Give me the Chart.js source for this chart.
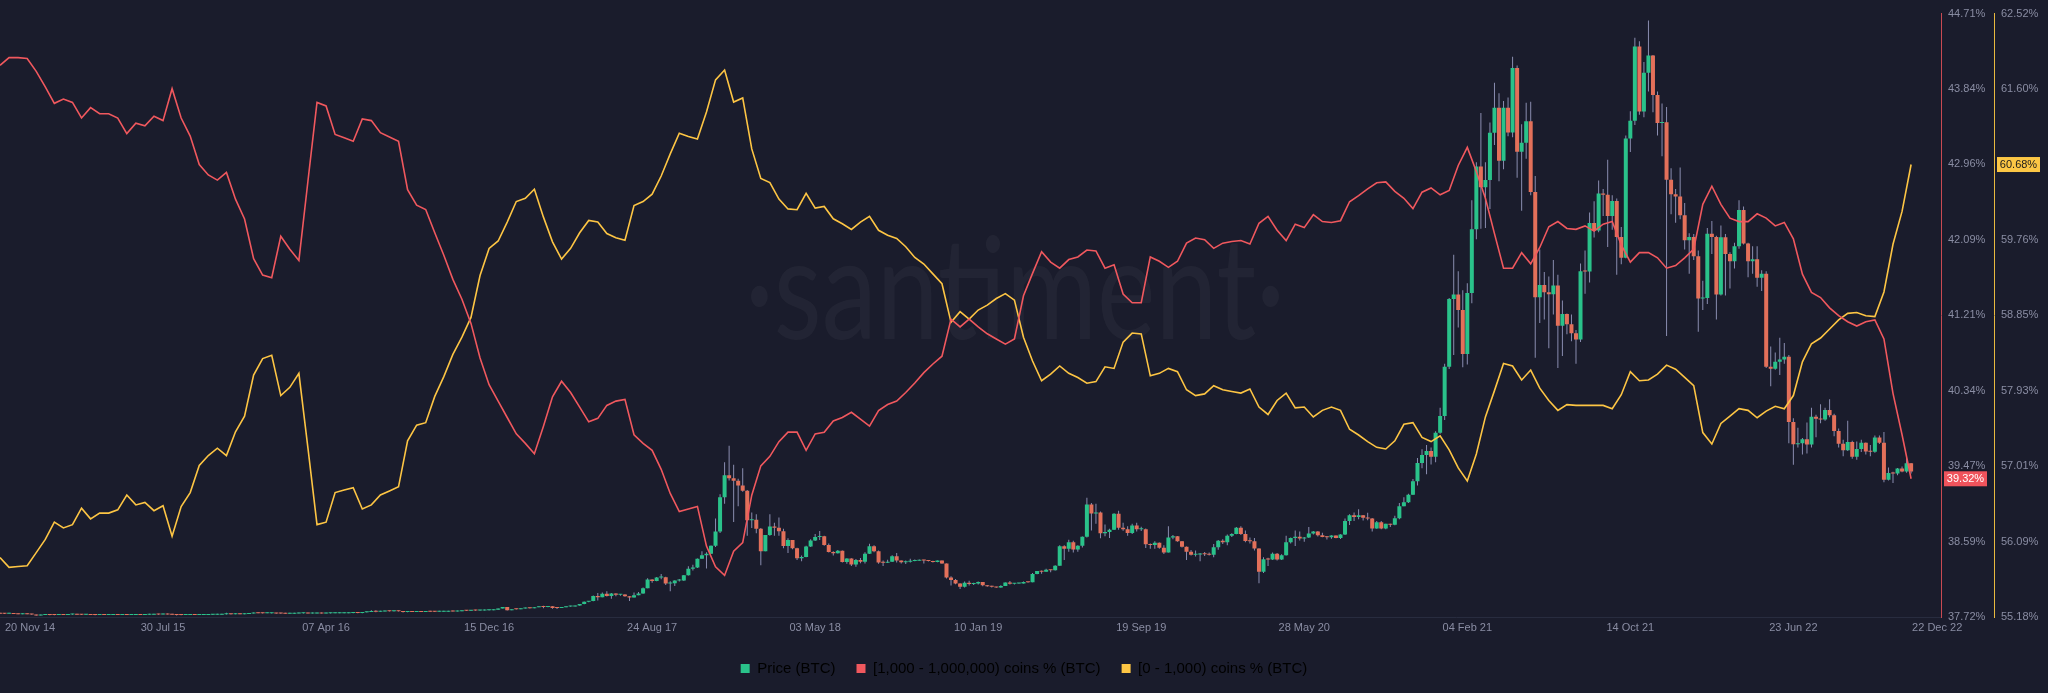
<!DOCTYPE html>
<html>
<head>
<meta charset="utf-8">
<script src="https://cdn.jsdelivr.net/npm/chart.js@4.4.1/dist/chart.umd.min.js"></script>
<style>
  html, body { margin: 0; padding: 0; background: #1a1c2c; }
</style>
</head>
<body>
<canvas id="chart" width="2048" height="693"></canvas>
<script>
// weekly candles: index 0 = week closing 20 Nov 14, one index per week
const tickWeeks = [0, 36, 72, 108, 144, 180, 216, 252, 288, 324, 360, 396, 422];
const tickLabels = ['20 Nov 14', '30 Jul 15', '07 Apr 16', '15 Dec 16', '24 Aug 17', '03 May 18',
  '10 Jan 19', '19 Sep 19', '28 May 20', '04 Feb 21', '14 Oct 21', '23 Jun 22', '22 Dec 22'];

const firstOpen = 423;
const priceClose = [
  380,367,375,345,320,323,320,294,178,228, 233,227,219,243,237,281,296,256,246,247,
  245,219,235,225,230,236,234,237,225,229, 249,241,258,270,285,277,289,282,267,226,
  225,229,238,229,231,236,246,253,266,304, 403,311,335,328,359,417,454,442,426,431,
  432,418,395,368,381,407,424,424,412,416, 418,412,422,423,441,446,446,450,454,449,
  536,580,694,597,640,670,652,665,654,566, 592,573,580,573,614,610,597,605,612,636,
  630,678,730,709,744,739,742,767,780,834, 975,1154,785,906,892,989,1052,1008,1125,1223,
  1150,1245,1048,1040,1133,1210,1217,1317,1490,1760, 1840,2440,2290,2690,2440,2710,2570,2600,2390,2270,
  2530,2710,3340,4330,4150,4580,4600,3880,3910,4210, 4220,4830,5570,5730,6740,7140,7310,8230,9890,13860,
  16410,16050,15750,15200,14600,11200,11260,10220,7620,9490, 10480,10330,9910,8200,8900,7960,6810,6950,8160,8860,
  9240,9330,8340,7520,7370,7650,6350,6770,6070,6600, 6380,7320,8170,7600,6300,6270,6380,7040,6530,6340,
  6400,6480,6510,6590,6530,6490,6370,6530,6180,4580, 4280,3870,3490,3950,3830,3880,4040,3680,3560,3490,
  3400,3600,3980,3840,3870,3880,4050,4030,4970,5310, 5240,5470,5400,5940,8190,7900,8660,7800,8230,9270,
  13020,11960,12100,9680,9840,10080,11950,10330,10140,9720, 10580,10160,10160,8430,8340,8590,8000,7470,9200,9340,
  8760,8120,7550,7200,7220,7280,7250,7200,8080,8820, 8660,9390,9610,10330,9600,8790,8760,7910,5230,6680,
  6640,7330,6640,7130,8660,9150,9270,9080,9200,9670, 9890,9450,9250,9230,9440,9130,9540,11100,11760,11580,
  11760,11480,11400,10240,10950,10240,10780,10670,11430,12820, 13270,14150,15700,17800,18730,19210,18550,21310,23240,28950,
  36800,37320,35510,30430,37480,44840,52100,49700,50540,56010, 58910,52770,58920,56050,63500,53820,54860,57350,49150,37000,
  38400,37580,37340,38350,33680,35040,33860,32820,32110,40010, 39970,45590,44700,48990,48850,46400,48120,43960,41560,55360,
  57400,65990,58480,62970,64950,60370,57140,57230,50580,48900, 48630,46460,43570,43950,41740,36850,36900,44340,43960,37300,
  43940,41980,41140,42900,47070,43210,41150,41370,39240,39700, 28940,28720,29540,29800,30110,22570,19980,20110,20550,19950,
  23160,22930,22850,23950,23340,21530,20050,19290,20230,18550, 19420,20160,19150,19120,20770,20160,15880,16670,16600,17170,
  16840,17790,16820
];
const priceHigh = [
  455,390,382,380,352,335,330,322,296,240, 260,240,230,250,245,290,300,298,260,256,
  258,248,238,237,242,244,242,241,238,232, 256,250,262,310,293,288,295,290,284,268,
  235,232,242,240,236,241,248,256,272,318, 495,410,340,340,380,420,465,468,445,465,
  455,435,420,398,385,410,445,435,425,420, 423,420,425,428,448,466,452,462,458,458,
  545,590,780,770,680,690,675,680,670,660, 600,595,585,583,620,625,612,608,618,640,
  642,682,742,740,755,750,750,775,790,840, 980,1160,1160,910,930,1000,1065,1055,1130,1230,
  1290,1255,1250,1070,1140,1215,1240,1320,1500,1800, 1860,2500,2780,2830,2980,2780,2760,2650,2620,2420,
  2830,2900,3420,4480,4380,4640,4980,4650,4130,4260, 4400,4870,5860,6050,6760,7600,7500,8270,11400,14200,
  17900,19800,17600,16000,17200,14700,12100,11900,10300,9500, 11900,10900,11500,10200,9100,8900,8000,7100,8230,9000,
  9600,9950,9400,8500,7600,7750,7700,6800,6800,6700, 6820,7500,8470,8300,7700,6550,6620,7130,7400,6550,
  6550,6750,6650,6650,6620,6590,6500,6550,6550,6200, 4700,4400,3900,4100,4180,3950,4100,4050,3700,3620,
  3500,3670,4000,4150,3900,3950,4100,4070,5100,5330, 5370,5590,5480,6000,8300,8300,8940,8820,8300,9320,
  13800,13200,13100,12200,10700,10200,12000,12300,10900,10500, 10800,10900,10450,10250,8500,8750,8630,8300,10500,9500,
  9380,8800,8150,7750,7700,7400,7530,7450,8450,8900, 9000,9550,9700,10400,10500,10000,9200,9150,7950,6900,
  6850,7450,7400,7270,9400,9200,10000,9900,9240,10400, 9950,9950,9750,9380,9470,9440,9580,11400,11900,12100,
  12450,11800,12050,11450,11100,11100,10800,10800,11700,13200, 13850,14250,15950,18400,19400,19900,19600,21500,24200,29300,
  36900,41900,40000,37800,38600,48200,52600,58300,52600,57200, 61800,60600,59700,60100,64800,63800,57000,59500,59600,51000,
  42500,39900,39400,41300,39600,36600,35100,35000,33200,40900, 42400,46800,48100,50500,49500,52900,48800,48400,45100,55700,
  58500,67000,66600,64200,69000,65000,60800,59400,59000,51900, 49500,52000,47900,44400,44300,42400,38900,45000,45800,44100,
  45300,44300,42200,43300,48200,47500,43300,42900,42900,40100, 40000,31300,30600,32300,31700,30300,23000,21900,20700,22500,
  24200,23400,24600,24200,25200,23500,21800,20500,22700,20400, 20300,20500,20200,19900,21000,21000,21400,17300,16800,17250,
  17400,18400,17800
];
const priceLow = [
  370,350,362,342,310,313,312,265,152,175, 218,212,214,217,232,235,270,250,243,240,
  240,216,217,222,222,228,232,232,222,222, 228,238,240,254,268,272,275,276,260,162,
  200,220,226,226,226,229,235,243,252,264, 300,300,308,316,320,355,410,435,415,420,
  415,365,385,365,366,372,405,415,403,408, 412,410,410,418,421,440,440,443,440,437,
  446,530,575,560,597,635,635,650,648,530, 560,570,570,565,570,605,592,594,602,610,
  625,628,675,690,700,730,725,740,760,775, 830,970,750,770,880,890,980,975,1000,1120,
  1010,1140,950,930,1035,1125,1185,1210,1310,1480, 1700,1830,1900,2280,2380,2120,2400,2450,2330,1840,
  2260,2520,2700,3330,3950,4130,4380,3700,2980,3600, 4120,4150,4800,5380,5680,6730,5600,7300,8100,9720,
  13100,15800,11000,12800,14500,9400,10300,9700,6000,7600, 9400,9400,9400,7950,7400,7850,6600,6450,6900,8100,
  8800,8900,8250,7450,7100,7350,6300,6150,5900,5800, 6220,6200,7300,7500,6150,5900,6250,6350,6300,6200,
  6130,6300,6450,6500,6200,6430,6300,6320,6150,4450, 3650,3800,3250,3400,3640,3700,3760,3560,3500,3400,
  3370,3390,3580,3760,3760,3840,3870,3950,4010,4950, 4990,5220,5170,5380,5930,6600,7560,7450,7560,8050,
  9200,10000,10800,9100,9350,9150,10050,10100,9970,9400, 9600,9900,9950,7980,7900,7900,7900,7300,7450,9000,
  8700,8050,6600,7100,7000,6450,7050,7100,6900,7780, 8450,8300,9250,9580,9500,8650,8500,7700,3900,5100,
  5900,6600,6550,6600,7100,8500,8200,8850,8700,9130, 9550,9300,9220,8970,9060,9120,9030,9500,10650,11100,
  11300,11150,11200,9900,10200,10150,10150,10400,10600,11300, 12800,13200,14100,15200,17200,16500,17650,17900,21200,22800,
  28700,30300,33500,28900,29200,36300,43700,44900,45000,47200, 54600,50400,51800,55600,55500,50800,47000,53000,48800,30000,
  34000,34400,31100,35000,28800,30200,32700,31900,29300,31800, 37400,38700,43900,44500,46400,42800,44800,39600,40800,41500,
  53800,56900,58100,57800,60800,58400,55700,53300,32500,46600, 45600,46000,42500,39700,41300,33000,35500,36200,42000,34400,
  37200,37200,38000,40300,42600,43100,39300,39700,38200,37700, 28800,26700,28600,28000,29300,20100,17600,19600,18800,18900,
  19600,20800,22400,22700,23100,20900,19600,18600,19200,18300, 18200,19100,18800,18600,19000,20000,15600,15800,15500,16400,
  16750,16700,16600
];

// supply share series, one point every 2 weeks (index k -> week 2k)
const bigHoldersPct = [
  44.11,44.20,44.20,44.19,44.04,43.86,43.67,43.72,43.68,43.50, 43.62,43.55,43.55,43.50,43.32,43.44,43.41,43.52,43.47,43.84,
  43.50,43.29,42.96,42.84,42.78,42.87,42.56,42.33,41.87,41.68, 41.65,42.13,41.98,41.85,42.77,43.68,43.64,43.31,43.27,43.23,
  43.49,43.47,43.33,43.28,43.23,42.67,42.49,42.44,42.17,41.91, 41.63,41.40,41.12,40.72,40.41,40.22,40.03,39.84,39.73,39.61,
  39.93,40.27,40.45,40.32,40.15,39.98,40.02,40.17,40.22,40.24, 39.83,39.73,39.65,39.43,39.15,38.94,38.97,39.00,38.54,38.30,
  38.20,38.48,38.58,39.13,39.47,39.58,39.75,39.86,39.86,39.65, 39.84,39.86,39.99,40.03,40.09,40.01,39.93,40.11,40.18,40.22,
  40.32,40.43,40.55,40.65,40.74,41.17,41.08,41.17,41.08,41.00, 40.94,40.88,40.94,41.44,41.70,41.95,41.83,41.76,41.86,41.89,
  41.97,41.96,41.76,41.80,41.46,41.36,41.36,41.89,41.84,41.77, 41.84,42.05,42.11,42.09,41.99,42.05,42.07,42.08,42.04,42.28,
  42.36,42.20,42.08,42.27,42.23,42.38,42.30,42.29,42.31,42.53, 42.60,42.68,42.75,42.76,42.65,42.57,42.45,42.64,42.69,42.61,
  42.66,42.95,43.16,42.88,42.57,42.16,41.76,41.76,41.94,41.81, 42.00,42.24,42.30,42.22,42.21,42.25,42.19,42.27,42.30,42.03,
  41.83,41.94,41.94,41.88,41.76,41.79,41.88,41.98,42.50,42.71, 42.50,42.34,42.30,42.30,42.39,42.34,42.25,42.29,42.10,41.69,
  41.48,41.42,41.30,41.21,41.14,41.09,41.14,41.16,40.94,40.31, 39.83,39.32
];
const smallHoldersPct = [
  55.90,55.78,55.79,55.80,55.96,56.12,56.33,56.26,56.30,56.50, 56.37,56.44,56.44,56.48,56.66,56.54,56.57,56.47,56.53,56.16,
  56.52,56.69,57.02,57.14,57.23,57.14,57.43,57.62,58.12,58.32, 58.36,57.87,57.97,58.14,57.23,56.30,56.33,56.69,56.72,56.75,
  56.49,56.54,56.66,56.71,56.76,57.32,57.51,57.54,57.86,58.10, 58.37,58.58,58.82,59.33,59.66,59.75,59.98,60.23,60.27,60.38,
  60.04,59.74,59.53,59.66,59.85,60.00,59.98,59.84,59.79,59.76, 60.18,60.23,60.32,60.54,60.81,61.06,61.02,60.99,61.32,61.71,
  61.83,61.44,61.49,60.87,60.51,60.46,60.26,60.14,60.13,60.33, 60.15,60.17,60.02,59.96,59.89,59.98,60.05,59.88,59.82,59.78,
  59.68,59.55,59.47,59.35,59.23,58.76,58.89,58.80,58.91,58.97, 59.05,59.11,59.03,58.58,58.29,58.05,58.13,58.23,58.14,58.09,
  58.02,58.04,58.22,58.20,58.52,58.63,58.62,58.11,58.14,58.20, 58.16,57.94,57.87,57.89,57.99,57.94,57.92,57.90,57.95,57.73,
  57.64,57.81,57.90,57.72,57.73,57.61,57.69,57.73,57.69,57.46, 57.39,57.31,57.24,57.22,57.32,57.52,57.54,57.36,57.31,57.38,
  57.21,56.99,56.83,57.16,57.61,57.93,58.26,58.23,58.06,58.18, 57.96,57.81,57.69,57.76,57.75,57.75,57.75,57.75,57.71,57.88,
  58.16,58.05,58.06,58.13,58.24,58.19,58.09,57.99,57.42,57.28, 57.53,57.62,57.71,57.69,57.60,57.68,57.74,57.71,57.87,58.28,
  58.50,58.57,58.68,58.79,58.87,58.88,58.84,58.83,59.13,59.71, 60.11,60.68
];

const BG = '#1a1c2c';
const GREEN = '#2ac28a';
const CANDLE_RED = '#e3705a';
const WICK = '#8a8db0';
const RED = '#f0585e';
const YELLOW = '#fdc544';
const TICK = '#8a8da3';
const FONT = '"Liberation Sans", Arial, sans-serif';

Chart.defaults.font.family = FONT;

// open of each weekly candle is the previous week's close
const priceOpen = priceClose.map((c, i) => i === 0 ? firstOpen : priceClose[i - 1]);
const bodies = priceClose.map((c, i) => ({ x: i, y: [priceOpen[i], c] }));
const wicks = priceClose.map((c, i) => ({ x: i, y: [priceLow[i], priceHigh[i]] }));
const upWeek = i => priceClose[i] >= priceOpen[i];

function evenTicks(scale) {
  const t = [];
  for (let j = 0; j <= 8; j++) t.push({ value: scale.min + (scale.max - scale.min) * j / 8 });
  scale.ticks = t;
}

const decor = {
  id: 'decor',
  beforeDraw(chart) {
    const { ctx, width, height } = chart;
    ctx.save();
    ctx.fillStyle = BG;
    ctx.fillRect(0, 0, width, height);
    ctx.restore();
  },
  beforeDatasetsDraw(chart) {
    const { ctx } = chart;
    ctx.save();
    ctx.font = '400 142px Lato';
    ctx.fillStyle = 'rgba(255,255,255,0.04)';
    ctx.textAlign = 'center';
    ctx.textBaseline = 'alphabetic';
    const text = '\u00B7santiment\u00B7';
    const w = ctx.measureText(text).width;
    ctx.translate(1015, 339);
    ctx.scale(540 / w, 1);
    ctx.fillText(text, 0, 0);
    ctx.restore();
  },
  afterDraw(chart) {
    const { ctx, chartArea } = chart;
    const xs = chart.scales.x;
    ctx.save();
    ctx.font = '11px ' + FONT;
    ctx.fillStyle = TICK;
    ctx.textBaseline = 'middle';
    const y = chartArea.bottom + 11;
    tickWeeks.forEach((wk, j) => {
      const px = xs.getPixelForValue(wk);
      if (j === 0) { ctx.textAlign = 'left'; ctx.fillText(tickLabels[j], px + 5, y); }
      else if (j === tickWeeks.length - 1) { ctx.textAlign = 'left'; ctx.fillText(tickLabels[j], px + 1, y); }
      else { ctx.textAlign = 'center'; ctx.fillText(tickLabels[j], px, y); }
    });

    const badge = (scale, value, fill, color) => {
      const by = scale.getPixelForValue(value);
      const bx = scale.left + 3, bw = 43, bh = 15;
      ctx.fillStyle = fill;
      ctx.fillRect(bx, by - bh / 2, bw, bh);
      ctx.fillStyle = color;
      ctx.textAlign = 'center';
      ctx.fillText(value.toFixed(2) + '%', bx + bw / 2, by + 0.5);
    };
    badge(chart.scales.yR, bigHoldersPct[bigHoldersPct.length - 1], '#f0535c', '#ffffff');
    badge(chart.scales.yY, smallHoldersPct[smallHoldersPct.length - 1], '#fcc745', '#1b1b1b');
    ctx.restore();
  }
};

new Chart(document.getElementById('chart'), {
  type: 'bar',
  data: {
    datasets: [
      {
        type: 'line',
        label: '[1,000 - 1,000,000) coins % (BTC)',
        data: bigHoldersPct.map((v, k) => ({ x: 2 * k, y: v })),
        yAxisID: 'yR',
        borderColor: RED,
        borderWidth: 1.6,
        pointRadius: 0,
        tension: 0,
        order: 0
      },
      {
        type: 'line',
        label: '[0 - 1,000) coins % (BTC)',
        data: smallHoldersPct.map((v, k) => ({ x: 2 * k, y: v })),
        yAxisID: 'yY',
        borderColor: YELLOW,
        borderWidth: 1.6,
        pointRadius: 0,
        tension: 0,
        order: 1
      },
      {
        label: 'Price (BTC)',
        data: bodies,
        yAxisID: 'yP',
        backgroundColor: ctx => upWeek(ctx.dataIndex) ? GREEN : CANDLE_RED,
        barThickness: 4,
        minBarLength: 1,
        grouped: false,
        inflateAmount: 0,
        order: 2
      },
      {
        label: 'wick',
        data: wicks,
        yAxisID: 'yP',
        backgroundColor: WICK,
        barThickness: 1,
        minBarLength: 1,
        grouped: false,
        inflateAmount: 0,
        order: 3
      }
    ]
  },
  options: {
    responsive: false,
    animation: false,
    events: [],
    layout: { padding: { top: 7, left: 0, right: 0, bottom: 7 } },
    scales: {
      x: {
        type: 'linear',
        min: 0,
        max: 428.6,
        offset: false,
        grid: { display: false },
        border: { display: true, color: '#282c3f' },
        ticks: { display: false },
        afterFit: s => { s.height = 23; }
      },
      yP: {
        type: 'linear',
        display: false,
        min: 0,
        max: 69800
      },
      yR: {
        type: 'linear',
        position: 'right',
        min: 37.7185,
        max: 44.7097,
        grid: { display: false, drawTicks: false },
        border: { display: true, color: '#c94a52' },
        ticks: { color: TICK, font: { size: 11 }, padding: 7, autoSkip: false,
          callback: v => v.toFixed(2) + '%' },
        afterBuildTicks: evenTicks,
        afterFit: s => { s.width = 53; }
      },
      yY: {
        type: 'linear',
        position: 'right',
        min: 55.1765,
        max: 62.5157,
        grid: { display: false, drawTicks: false },
        border: { display: true, color: '#e8b93f' },
        ticks: { color: TICK, font: { size: 11 }, padding: 7, autoSkip: false,
          callback: v => v.toFixed(2) + '%' },
        afterBuildTicks: evenTicks,
        afterFit: s => { s.width = 54; }
      }
    },
    plugins: {
      tooltip: { enabled: false },
      legend: {
        position: 'bottom',
        onClick: null,
        labels: {
          color: '#dcdde6',
          font: { size: 15 },
          boxWidth: 9,
          boxHeight: 9,
          padding: 21,
          generateLabels: () => [
            { text: 'Price (BTC)', fillStyle: GREEN, strokeStyle: GREEN, lineWidth: 0, hidden: false, datasetIndex: 2 },
            { text: '[1,000 - 1,000,000) coins % (BTC)', fillStyle: RED, strokeStyle: RED, lineWidth: 0, hidden: false, datasetIndex: 0 },
            { text: '[0 - 1,000) coins % (BTC)', fillStyle: YELLOW, strokeStyle: YELLOW, lineWidth: 0, hidden: false, datasetIndex: 1 }
          ]
        }
      }
    }
  },
  plugins: [decor]
});
</script>
</body>
</html>
